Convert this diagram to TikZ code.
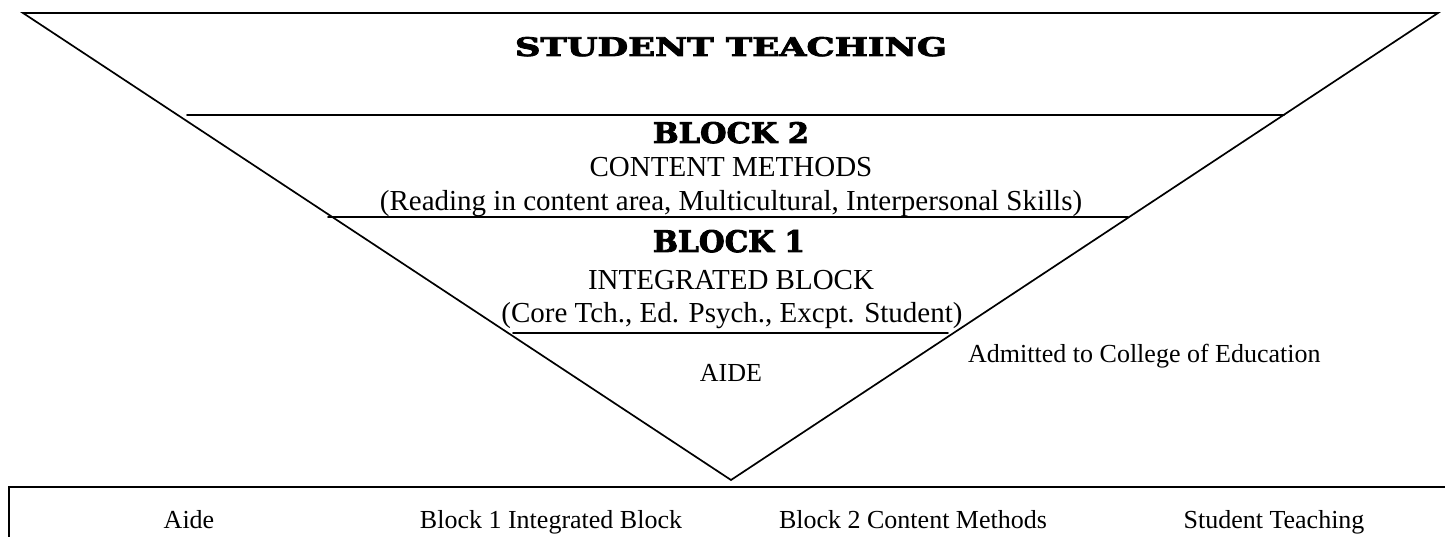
\documentclass[tikz,border=0pt]{standalone}
\usepackage{fontspec}
\setmainfont{Liberation Serif}
\newfontfamily\heavyfont[BoldFont={* Bold}, BoldFeatures={FakeBold=3}]{DejaVu Serif}
\begin{document}
\begin{tikzpicture}[x=1pt,y=-1pt,
  edge/.style={line width=1.7pt, line cap=round, line join=miter},
  boxline/.style={line width=2.4pt},
  body/.style={font=\fontsize{29}{34}\selectfont, inner sep=0pt, anchor=base},
  small/.style={font=\fontsize{26}{31}\selectfont, inner sep=0pt, anchor=base},
  heading/.style={inner sep=0pt, anchor=base}
]
\useasboundingbox (0,0) rectangle (1445,537);
% triangle
\coordinate (tl) at (23,13);
\coordinate (tr) at (1438,13);
\coordinate (apex) at (731,480);
\draw[edge] (tl) -- (tr) -- (apex) -- cycle;
% layer lines
\coordinate (l1a) at (187,115); \coordinate (l1b) at (1284,115);
\coordinate (l2a) at (328,217); \coordinate (l2b) at (1128,217);
\coordinate (l3a) at (513,333); \coordinate (l3b) at (948,333);
\draw[edge] (l1a) -- (l1b);
\draw[edge] (l2a) -- (l2b);
\draw[edge] (l3a) -- (l3b);
% headings
\node[heading] (st) at (731,56) {\resizebox{432pt}{19pt}{\heavyfont\bfseries STUDENT TEACHING}};
\node[heading] (b2) at (731,143) {\resizebox{156pt}{21pt}{\heavyfont\bfseries BLOCK 2}};
\node[heading] (b1) at (729,252) {\resizebox{152pt}{22pt}{\heavyfont\bfseries BLOCK 1}};
% body texts
\node[body] (cm) at (731,177) {CONTENT METHODS};
\node[body] (cmd) at (731,211) {(Reading in content area, Multicultural, Interpersonal Skills)};
\node[body] (ib) at (731,290) {INTEGRATED BLOCK};
\node[body] (ibd) at (732,322) {(Core Tch., Ed. Psych., Excpt. Student)};
\node[small, anchor=base west] (adm) at (968,362) {Admitted to College of Education};
\node[small] (aide) at (731,381) {AIDE};
% bottom box
\coordinate (bl) at (9,537);
\coordinate (bt) at (9,487);
\coordinate (br) at (1445,487);
\draw[boxline] (bl) -- (bt) -- (br);
\node[small] (c1) at (189,528) {Aide};
\node[small] (c2) at (551,528) {Block 1 Integrated Block};
\node[small] (c3) at (913,528) {Block 2 Content Methods};
\node[small] (c4) at (1274,528) {Student Teaching};
\end{tikzpicture}
\end{document}
